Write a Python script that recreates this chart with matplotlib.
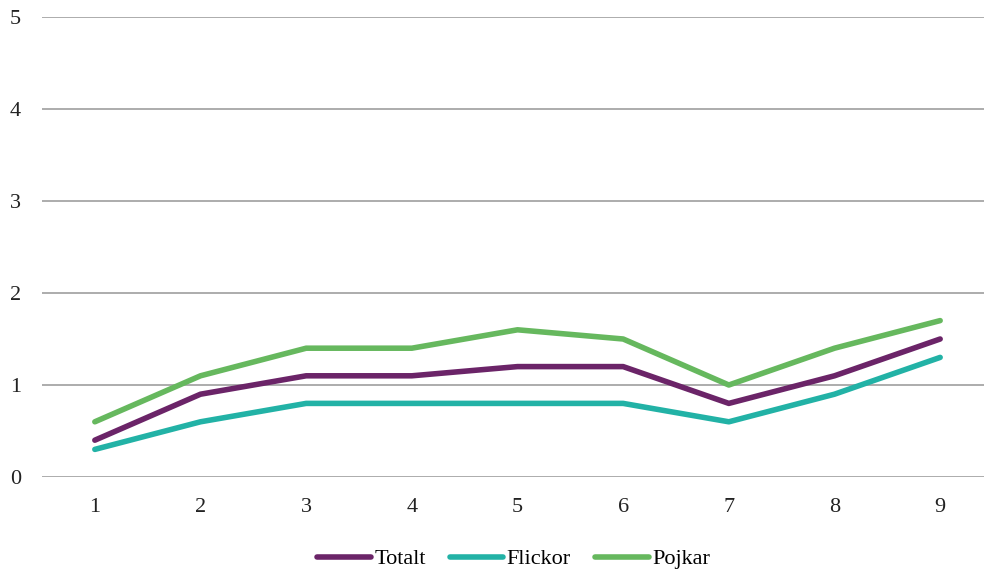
import matplotlib
matplotlib.use("Agg")
import matplotlib.pyplot as plt

# Data
categories = [1, 2, 3, 4, 5, 6, 7, 8, 9]
totalt = [0.4, 0.9, 1.1, 1.1, 1.2, 1.2, 0.8, 1.1, 1.5]
flickor = [0.3, 0.6, 0.8, 0.8, 0.8, 0.8, 0.6, 0.9, 1.3]
pojkar = [0.6, 1.1, 1.4, 1.4, 1.6, 1.5, 1.0, 1.4, 1.7]
y_ticks = [0, 1, 2, 3, 4, 5]

plt.rcParams['font.family'] = ['Liberation Serif', 'DejaVu Serif']

fig = plt.figure(figsize=(9.84, 5.69), dpi=100)
ax = fig.add_axes([42 / 984, 1 - 477 / 569, (993 - 42) / 984, (477 - 17) / 569])

series = [
    ('Totalt', totalt, '#6B2468'),
    ('Flickor', flickor, '#22B2A6'),
    ('Pojkar', pojkar, '#66B85E'),
]
for name, vals, col in series:
    ax.plot(categories, vals, color=col, linewidth=4.0, label=name,
            solid_capstyle='round', solid_joinstyle='round', zorder=3)

ax.set_xlim(0.5, 9.5)
ax.set_ylim(0, 5)
ax.set_xticks(categories)
ax.set_yticks(y_ticks)
ax.tick_params(axis='both', length=0, labelsize=16, colors='#222222')
ax.tick_params(axis='x', pad=15)
ax.tick_params(axis='y', pad=15)

ax.grid(axis='y', color='#A6A6A6', linewidth=1.3, zorder=0)
for s in ax.spines.values():
    s.set_visible(False)

fig.legend(loc='lower center', bbox_to_anchor=(0.522, -0.036), ncol=3, frameon=False,
           fontsize=16, handlelength=2.4, handletextpad=0.15, columnspacing=1.1)

fig.savefig('out.png', dpi=100)
